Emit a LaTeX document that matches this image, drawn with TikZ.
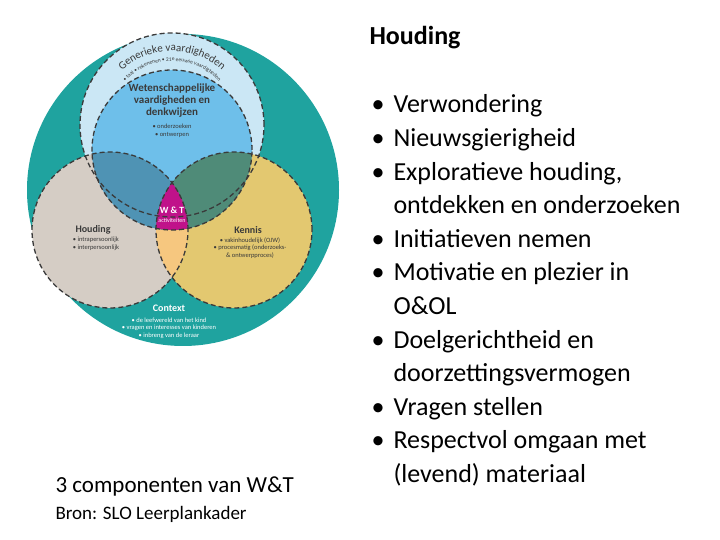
\documentclass[tikz,border=0pt]{standalone}
\usepackage{fontspec}
\setmainfont{Carlito}
\usetikzlibrary{decorations.text}
\definecolor{teal1}{HTML}{1FA39F}
\definecolor{lblue}{HTML}{CBE7F5}
\definecolor{mblue}{HTML}{6EBFEA}
\definecolor{grey1}{HTML}{D5CDC5}
\definecolor{yel}{HTML}{E3C870}
\definecolor{bg}{HTML}{4F93B4}
\definecolor{by}{HTML}{4F8B78}
\definecolor{gy}{HTML}{F6C77F}
\definecolor{mag}{HTML}{C0128A}
\definecolor{dk}{HTML}{3A3A3A}
\tikzset{dsh/.style={draw=dk,line width=1.3pt,dash pattern=on 5pt off 3pt},
 lbl/.style={text=dk,font=\bfseries\fontsize{10}{11}\selectfont,align=center},
 sub/.style={text=dk,font=\fontsize{6.5}{7.5}\selectfont,align=center},
 wsub/.style={text=white,font=\fontsize{6.5}{7.5}\selectfont,align=center},
 bul/.style={anchor=base west,text=black,font=\fontsize{26}{26}\selectfont},
 dot/.style={anchor=base east,text=black,font=\fontsize{26}{26}\selectfont}}
\begin{document}
\begin{tikzpicture}[x=1pt,y=1pt]
\useasboundingbox (0,0) rectangle (720,540);
\fill[teal1] (183,350) circle (156);
\fill[lblue] (172,415) circle (92);
\fill[grey1] (110,310) circle (78);
\fill[yel] (234,310) circle (78);
\begin{scope}\clip (110,310) circle (78); \fill[gy] (234,310) circle (78);\end{scope}
\fill[mblue] (172,390) circle (80);
\begin{scope}\clip (172,390) circle (80); \fill[bg] (110,310) circle (78); \fill[by] (234,310) circle (78);
 \clip (110,310) circle (78); \fill[mag] (234,310) circle (78);\end{scope}
\draw[dsh] (172,415) circle (92);
\draw[dsh] (172,390) circle (80);
\draw[dsh] (110,310) circle (78);
\draw[dsh] (234,310) circle (78);
\path[decorate,decoration={text along path,text align=center,
 text={|\fontsize{11}{11}\selectfont\color{dk}|Generieke vaardigheden}}]
 (172,415) ++(155:74) arc (155:25:74);
\path[decorate,decoration={text along path,text align=center,
 text={|\fontsize{5.5}{6}\selectfont\color{dk}|• taal • rekenenen • 21e eeuwse vaardigheden}}]
 (172,415) ++(170:64) arc (170:10:64);
\node[lbl,font=\bfseries\fontsize{11}{12}\selectfont] (wet) at (172,439) {Wetenschappelijke\\vaardigheden en\\denkwijzen};
\node[sub] (wets) at (172,409) {• onderzoeken\\• ontwerpen};
\node[text=white,font=\bfseries\fontsize{9.5}{10}\selectfont] (wt) at (172,330) {W \& T};
\node[text=white,font=\fontsize{6}{6}\selectfont] (wta) at (172,320) {activiteiten};
\node[lbl] (hou) at (93,310) {Houding};
\node[sub,align=left] (hous) at (96,296) {• intrapersoonlijk\\• interpersoonlijk};
\node[lbl] (ken) at (248,310) {Kennis};
\node[sub] (kens) at (250,292) {• vakinhoudelijk (OJW)\\• procesmatig (onderzoeks-\\\& ontwerpproces)};
\node[lbl,text=white] (con) at (169,232) {Context};
\node[wsub] (cons) at (169,212) {• de leefwereld van het kind\\• vragen en interesses van kinderen\\• inbreng van de leraar};
\node[anchor=west,font=\bfseries\fontsize{26}{26}\selectfont] (h) at (366,502) {Houding};
\foreach \t [count=\i] in {Verwondering,Nieuwsgierigheid,{Exploratieve houding,},{ontdekken en onderzoeken},Initiatieven nemen,{Motivatie en plezier in},{O\&OL},Doelgerichtheid en,doorzettingsvermogen,Vragen stellen,Respectvol omgaan met,(levend) materiaal}{
 \node[bul] (l\i) at (390,{540-113-(\i-1)*33.6}) {\t};}
\foreach \i in {1,2,3,5,6,8,10,11}{
 \node[dot] (d\i) at (388,{540-113-(\i-1)*33.6}) {•};}
\node[anchor=west,font=\fontsize{23}{23}\selectfont] (c1) at (52,53) {3 componenten van W\&T};
\node[anchor=west,font=\fontsize{19}{19}\selectfont] (c2) at (52,26) {Bron: SLO Leerplankader};
\end{tikzpicture}
\end{document}
